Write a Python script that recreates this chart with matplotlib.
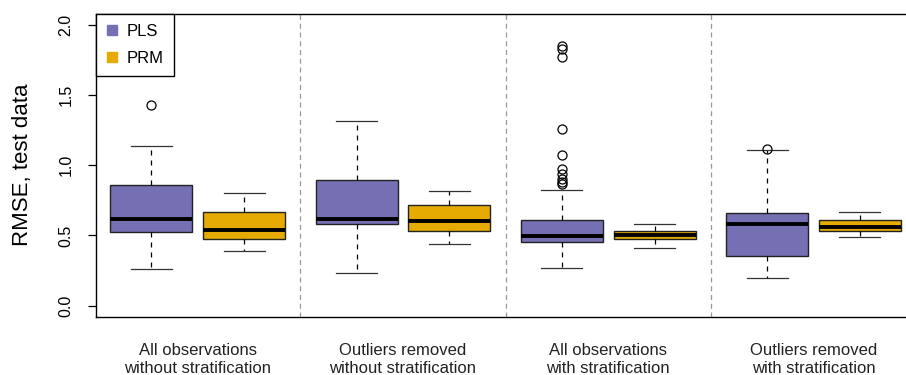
import matplotlib.pyplot as plt
from matplotlib.lines import Line2D

plt.rcParams["font.family"] = ["Liberation Sans", "DejaVu Sans"]

groups = [
    "All observations\nwithout stratification",
    "Outliers removed\nwithout stratification",
    "All observations\nwith stratification",
    "Outliers removed\nwith stratification",
]
methods = ["PLS", "PRM"]
colors = {"PLS": "#7570b3", "PRM": "#e6ab02"}

# five-number summaries: low whisker, Q1, median, Q3, high whisker
pls_stats = [
    [0.258, 0.527, 0.617, 0.858, 1.137],
    [0.232, 0.579, 0.617, 0.894, 1.317],
    [0.272, 0.454, 0.499, 0.612, 0.825],
    [0.201, 0.352, 0.584, 0.657, 1.106],
]
prm_stats = [
    [0.390, 0.477, 0.539, 0.669, 0.804],
    [0.437, 0.532, 0.605, 0.714, 0.816],
    [0.411, 0.473, 0.501, 0.530, 0.582],
    [0.489, 0.530, 0.563, 0.608, 0.664],
]
pls_outliers = [
    [1.430],
    [],
    [1.85, 1.83, 1.77, 1.26, 1.07, 0.975, 0.94, 0.905, 0.88, 0.865],
    [1.113],
]
prm_outliers = [[], [], [], []]

yticks = [0.0, 0.5, 1.0, 1.5, 2.0]


def make_stats(rows, fliers, label):
    out = []
    for (lo, q1, med, q3, hi), fl in zip(rows, fliers):
        out.append({"whislo": lo, "q1": q1, "med": med, "q3": q3, "whishi": hi,
                    "fliers": fl, "label": label})
    return out


fig = plt.figure(figsize=(9.06, 3.75), dpi=100)
ax = fig.add_axes([0.1056, 0.1547, 0.905, 0.8093])

offset = 0.2258
for name, rows, fl in [("PLS", pls_stats, pls_outliers), ("PRM", prm_stats, prm_outliers)]:
    pos = [i - offset if name == "PLS" else i + offset for i in range(len(groups))]
    ax.bxp(
        make_stats(rows, fl, name),
        positions=pos,
        widths=0.4,
        capwidths=0.2,
        patch_artist=True,
        boxprops=dict(facecolor=colors[name], edgecolor="#222222", linewidth=1.0),
        medianprops=dict(color="black", linewidth=2.8, solid_capstyle="butt"),
        whiskerprops=dict(color="black", linewidth=0.9, linestyle=(0, (4, 4))),
        capprops=dict(color="#333333", linewidth=0.9),
        flierprops=dict(marker="o", markerfacecolor="none", markeredgecolor="black",
                        markersize=6.5, markeredgewidth=0.9),
        manage_ticks=False,
    )

for sep in [0.5, 1.5, 2.5]:
    ax.axvline(sep, color="#999999", linewidth=0.9, linestyle=(0, (4, 3)), zorder=0)

ax.set_xlim(-0.497, 3.497)
ax.set_ylim(-0.08, 2.08)
ax.set_xticks([])
ax.set_yticks(yticks)
ax.set_yticklabels([f"{v:.1f}" for v in yticks], rotation=90, va="center", fontsize=11.5)
ax.tick_params(axis="y", length=6, width=0.9, pad=10)
ax.spines["right"].set_visible(False)
for s in ["left", "top", "bottom"]:
    ax.spines[s].set_linewidth(1.0)
ax.set_ylabel("RMSE, test data", fontsize=16, labelpad=18)

for i, g in enumerate(groups):
    ax.text(i, -0.085, g, transform=ax.get_xaxis_transform(), ha="center", va="top",
            fontsize=12, linespacing=1.3, color="#222222")

handles = [Line2D([], [], marker="s", linestyle="", color=colors[m], markersize=7) for m in methods]
ax.legend(handles, methods, loc="upper left", borderaxespad=0, fancybox=False,
          edgecolor="black", framealpha=1, fontsize=12, handlelength=0.8,
          handletextpad=0.45, borderpad=0.6, labelspacing=0.75)

fig.savefig("out.png", dpi=100)
